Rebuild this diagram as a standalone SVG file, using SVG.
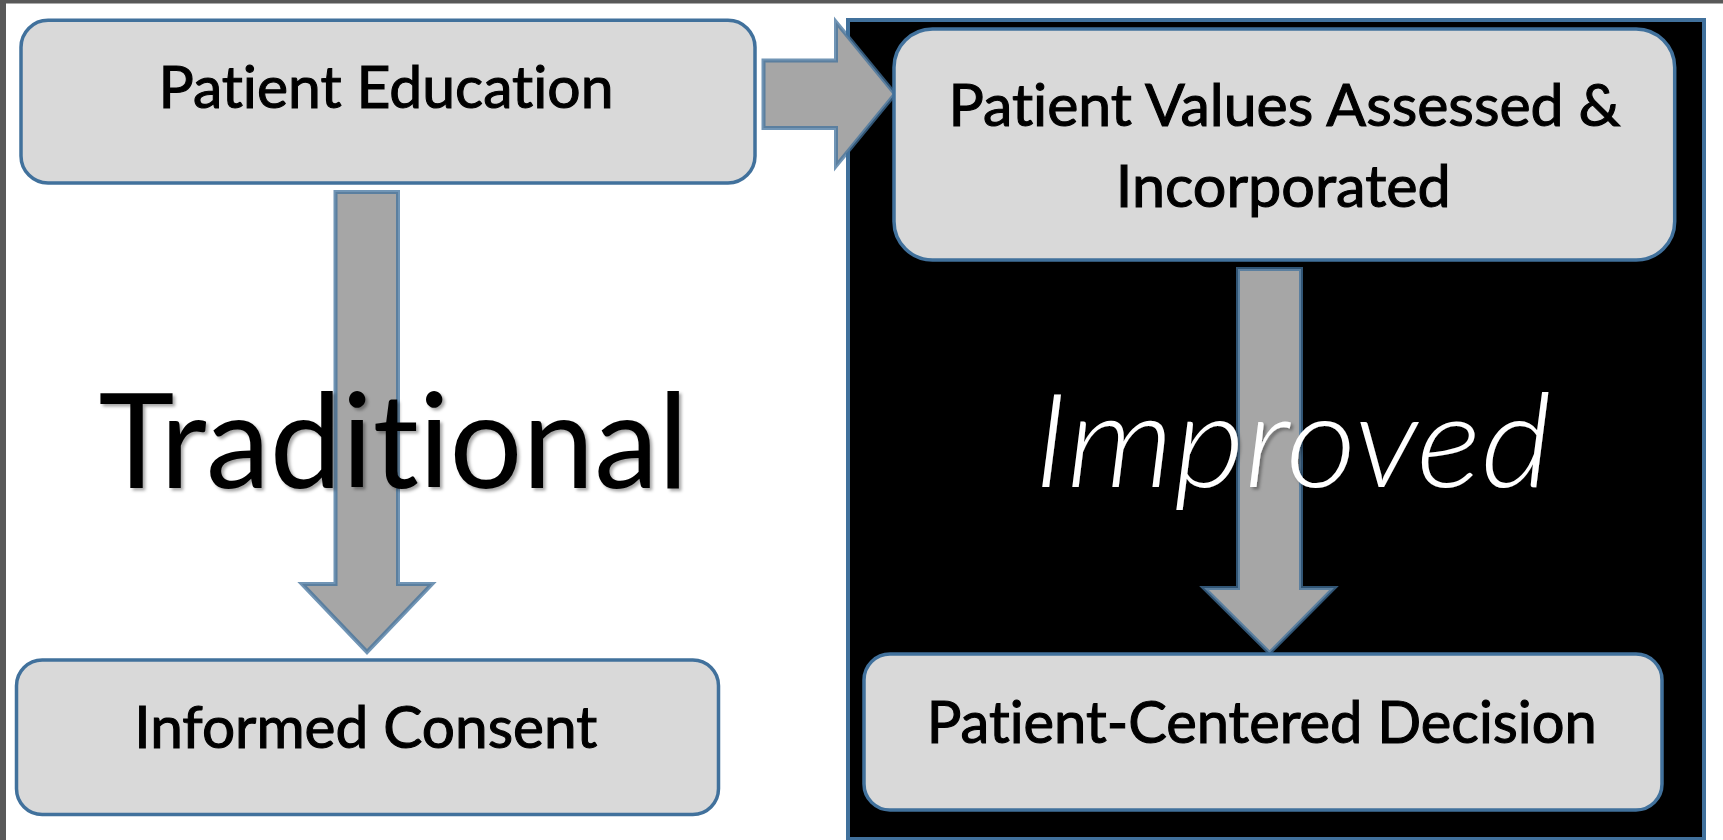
<svg xmlns="http://www.w3.org/2000/svg" width="1723" height="840" viewBox="0 0 1723 840">
  <style>
    text { font-variant-ligatures: none; font-feature-settings: "liga" 0, "clig" 0, "dlig" 0; }
    .box { fill: #d9d9d9; stroke: #41719c; stroke-width: 3.5; }
    .arrow { fill: #a6a6a6; stroke: #41719c; stroke-opacity: 0.75; stroke-width: 4; stroke-linejoin: miter; }
    .lbl { font-family: Lato, "Liberation Sans", sans-serif; font-size: 58px; fill: #000; text-anchor: middle; stroke: #000; stroke-width: 1.1; }
    .big { font-family: Lato, "Liberation Sans", sans-serif; font-size: 131px; text-anchor: middle; }
  </style>
  <defs>
    <filter id="shadow" x="-5%" y="-10%" width="110%" height="130%">
      <feDropShadow dx="2.5" dy="2.5" stdDeviation="1.5" flood-color="#000" flood-opacity="0.35"/>
    </filter>
  </defs>

  <!-- background and outer frame -->
  <rect x="0" y="0" width="1723" height="840" fill="#ffffff"/>
  <rect x="0" y="0" width="1723" height="3.5" fill="#595959"/>
  <rect x="0" y="0" width="6" height="840" fill="#595959"/>

  <!-- improved panel -->
  <rect id="improved-panel" x="848" y="20" width="856" height="819" fill="#000000" stroke="#41719c" stroke-width="4"/>

  <!-- connectors -->
  <g id="connectors">
    <path class="arrow" d="M763.5,60.5 L836,60.5 L836,22 L895,94 L836,166 L836,128 L763.5,128 Z"/>
    <path class="arrow" d="M335.5,192 L398,192 L398,584 L432,584 L367,652 L302,584 L335.5,584 Z"/>
    <path class="arrow" d="M1238,269 L1301,269 L1301,588 L1334,588 L1269.5,653 L1204,588 L1238,588 Z"/>
  </g>

  <g id="node-patient-education">
    <rect class="box" x="21" y="20.3" width="734" height="162.7" rx="27" ry="27"/>
    <text class="lbl" x="386" y="107.7" textLength="455" lengthAdjust="spacingAndGlyphs">Patient Education</text>
  </g>

  <g id="node-patient-values">
    <rect class="box" x="894" y="29" width="780.7" height="231" rx="38.5" ry="38.5"/>
    <text class="lbl" x="1284.6" y="126" textLength="672" lengthAdjust="spacingAndGlyphs">Patient Values Assessed &amp;</text>
    <text class="lbl" x="1283.3" y="207.3" textLength="335" lengthAdjust="spacingAndGlyphs">Incorporated</text>
  </g>

  <g id="node-informed-consent">
    <rect class="box" x="16.5" y="660" width="702" height="154.5" rx="25.7" ry="25.7"/>
    <text class="lbl" x="365.7" y="748.3" textLength="463" lengthAdjust="spacingAndGlyphs">Informed Consent</text>
  </g>

  <g id="node-patient-centered">
    <rect class="box" x="864" y="654" width="798" height="156" rx="26" ry="26"/>
    <text class="lbl" x="1261.8" y="742.7" textLength="670" lengthAdjust="spacingAndGlyphs">Patient-Centered Decision</text>
  </g>

  <g id="label-traditional">
    <text class="big" x="393.4" y="488" fill="#000000" textLength="590" lengthAdjust="spacingAndGlyphs" filter="url(#shadow)">Traditional</text>
  </g>
  <g id="label-improved">
    <text class="big" x="1292.8" y="486.7" fill="#ffffff" font-style="italic" font-weight="300" textLength="518" lengthAdjust="spacingAndGlyphs" filter="url(#shadow)">Improved</text>
  </g>
</svg>
